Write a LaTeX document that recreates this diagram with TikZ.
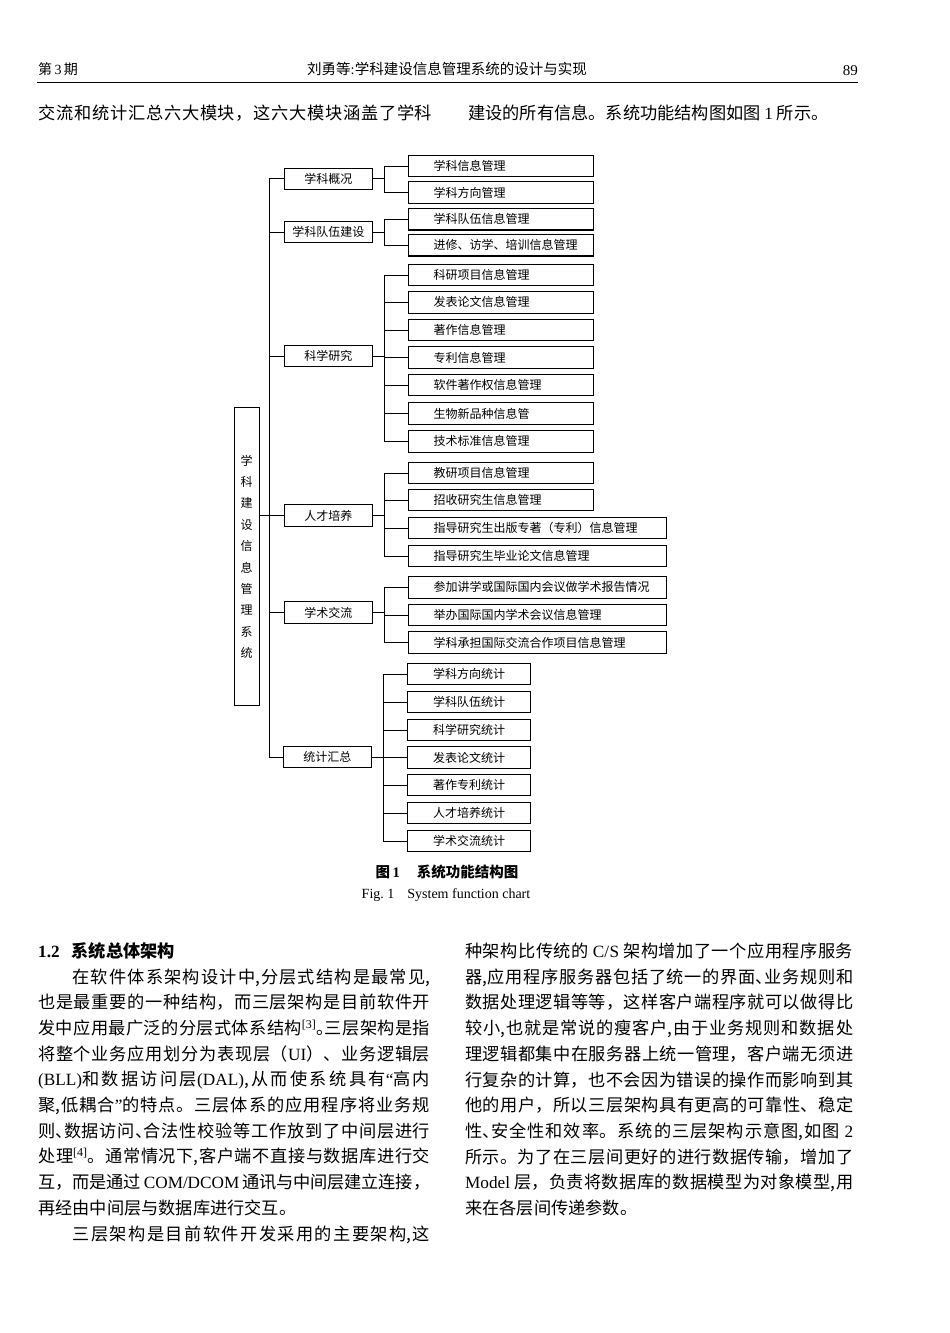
\documentclass[tikz,border=0pt]{standalone}
\usepackage{fontspec}
\setmainfont{Noto Sans CJK SC}
\newfontfamily\tm{Liberation Serif}
\usetikzlibrary{positioning}
\XeTeXlinebreaklocale "zh"
\XeTeXlinebreakskip=0pt plus 3pt minus 0.4pt
\tolerance=9999
\newcommand\rf[1]{\textsuperscript{\tm[#1]}}
\newcommand\hp[1]{\makebox[.5em][l]{#1}}

\begin{document}
\begin{tikzpicture}[x=1pt,y=-1pt,
  lvl/.style={draw,line width=1.1pt,minimum width=87.5pt,minimum height=21.5pt,
    inner sep=0pt,anchor=west,font=\fontsize{12}{14}\selectfont},
  leaf/.style={lvl,minimum width=0pt,text width=185pt,align=left,
    execute at begin node=\hspace*{25pt}},
  wide/.style={leaf,text width=258pt},
  cnt/.style={lvl,minimum width=123pt,align=center},
  sysbox/.style={draw,line width=1.1pt,minimum width=25pt,minimum height=298pt,
    inner sep=0pt,align=center,font=\fontsize{12}{21.4}\selectfont},
  link/.style={line width=1pt},
  para/.style={inner sep=0pt,anchor=base west,align=justify,
    font=\fontsize{17.2}{25.7}\selectfont}]
\useasboundingbox (0,0) rectangle (950,1333);
% running head
\node[anchor=west,inner sep=0pt,font=\fontsize{14}{16}\selectfont] (issue) at (38,69) {第{\tm\,3\,}期};
\node[font=\fontsize{14.5}{16}\selectfont] (runtitle) at (447,69) {刘勇等{\tm :}学科建设信息管理系统的设计与实现};
\node[anchor=east,inner sep=0pt,font=\tm\fontsize{15}{16}\selectfont] (pageno) at (858,71) {89};
\draw[line width=0.8pt] (37,82) -- (858,82);
\node[para,text width=394pt] (topL) at (38,119.5) {{\parfillskip=0pt 交流和统计汇总六大模块，这六大模块涵盖了学科\par}};
\node[para] (topR) at (468,119.5) {建设的所有信息。系统功能结构图如图 {\tm 1} 所示。};

% system function chart
\node[sysbox] (root) at (246.7,556.7) {学\\科\\建\\设\\信\\息\\管\\理\\系\\统};
\node[lvl] (gk) at (284,178.8) {学科概况};
\node[lvl] (dw) at (284,232) {学科队伍建设};
\node[lvl] (ky) at (284,356) {科学研究};
\node[lvl] (rc) at (284,515.5) {人才培养};
\node[lvl] (jl) at (284,612.5) {学术交流};
\node[lvl] (tj) at (283,757) {统计汇总};

\node[leaf] (gk1) at (408,166) {学科信息管理};
\node[leaf] (gk2) at (408,192.5) {学科方向管理};
\node[leaf] (dw1) at (408,219.2) {学科队伍信息管理};
\node[leaf] (dw2) at (408,245.2) {进修、访学、培训信息管理};
\node[leaf] (ky1) at (408,275) {科研项目信息管理};
\node[leaf] (ky2) at (408,302.3) {发表论文信息管理};
\node[leaf] (ky3) at (408,330) {著作信息管理};
\node[leaf] (ky4) at (408,357.5) {专利信息管理};
\node[leaf] (ky5) at (408,385) {软件著作权信息管理};
\node[leaf] (ky6) at (408,413.5) {生物新品种信息管};
\node[leaf] (ky7) at (408,441.3) {技术标准信息管理};
\node[leaf] (rc1) at (408,473) {教研项目信息管理};
\node[leaf] (rc2) at (408,500) {招收研究生信息管理};
\node[wide] (rc3) at (408,528) {指导研究生出版专著（专利）信息管理};
\node[wide] (rc4) at (408,556) {指导研究生毕业论文信息管理};
\node[wide] (jl1) at (408,587.3) {参加讲学或国际国内会议做学术报告情况};
\node[wide] (jl2) at (408,615) {举办国际国内学术会议信息管理};
\node[wide] (jl3) at (408,642.5) {学科承担国际交流合作项目信息管理};
\node[cnt] (tj1) at (407,674) {学科方向统计};
\node[cnt] (tj2) at (407,702) {学科队伍统计};
\node[cnt] (tj3) at (407,730) {科学研究统计};
\node[cnt] (tj4) at (407,757.5) {发表论文统计};
\node[cnt] (tj5) at (407,785) {著作专利统计};
\node[cnt] (tj6) at (407,813) {人才培养统计};
\node[cnt] (tj7) at (407,841) {学术交流统计};

% trunk
\draw[link] (gk.west) -- ++(-14.5,0) coordinate (trunk) -- (trunk |- tj.west) -- (tj.west);
\draw[link] (trunk |- dw.west) -- (dw.west) (trunk |- ky.west) -- (ky.west);
\draw[link] (root.east |- rc.west) -- (rc.west) (trunk |- jl.west) -- (jl.west);
% branches
\draw[link] (gk.east) -- ++(12,0) |- (gk1.west) (gk.east) -- ++(12,0) |- (gk2.west);
\draw[link] (dw.east) -- ++(12,0) |- (dw1.west) (dw.east) -- ++(12,0) |- (dw2.west);
\draw[link] (ky.east) -- ++(12,0) |- (ky1.west) (ky.east) -- ++(12,0) |- (ky2.west)
  (ky.east) -- ++(12,0) |- (ky3.west) (ky.east) -- ++(12,0) |- (ky4.west)
  (ky.east) -- ++(12,0) |- (ky5.west) (ky.east) -- ++(12,0) |- (ky6.west)
  (ky.east) -- ++(12,0) |- (ky7.west);
\draw[link] (rc.east) -- ++(12,0) |- (rc1.west) (rc.east) -- ++(12,0) |- (rc2.west)
  (rc.east) -- ++(12,0) |- (rc3.west) (rc.east) -- ++(12,0) |- (rc4.west);
\draw[link] (jl.east) -- ++(12,0) |- (jl1.west) (jl.east) -- ++(12,0) |- (jl2.west)
  (jl.east) -- ++(12,0) |- (jl3.west);
\draw[link] (tj.east) -- ++(12,0) |- (tj1.west) (tj.east) -- ++(12,0) |- (tj2.west)
  (tj.east) -- ++(12,0) |- (tj3.west) (tj.east) -- ++(12,0) |- (tj4.west)
  (tj.east) -- ++(12,0) |- (tj5.west) (tj.east) -- ++(12,0) |- (tj6.west)
  (tj.east) -- ++(12,0) |- (tj7.west);

\node[font=\bfseries\fontsize{14.5}{16}\selectfont] (cap) at (447,872) {图\,{\tm 1}\hspace{17pt}系统功能结构图};
\node[font=\tm\fontsize{14}{16}\selectfont] (capen) at (446,895) {Fig.\ 1\hspace{13pt}System function chart};

% body text
\node[anchor=base west,inner sep=0pt,font=\bfseries\fontsize{17.2}{20}\selectfont] (sec) at (38,957.5) {{\tm 1.2}\hspace{12pt}系统总体架构};
\node[para,text width=392pt] (colL) at (38,983) {%
\hspace*{2em}在软件体系架构设计中,分层式结构是最常见,\linebreak
也是最重要的一种结构，而三层架构是目前软件开\linebreak
发中应用最广泛的分层式体系结构\rf{3}\hp{。}三层架构是指\linebreak
将整个业务应用划分为表现层（{\tm UI}）、业务逻辑层\linebreak
{\tm(BLL)}和数据访问层{\tm(DAL)},从而使系统具有{\tm“}高内\linebreak
聚,低耦合{\tm”}的特点。三层体系的应用程序将业务规\linebreak
则\hp{、}数据访问\hp{、}合法性校验等工作放到了中间层进行\linebreak
处理\rf{4}。通常情况下,客户端不直接与数据库进行交\linebreak
互，而是通过 {\tm COM/DCOM} 通讯与中间层建立连接，\linebreak
再经由中间层与数据库进行交互。\par
{\parfillskip=0pt \hspace*{2em}三层架构是目前软件开发采用的主要架构,这\par}};
\node[para,text width=388pt] (colR) at (465,957.5) {%
种架构比传统的 {\tm C/S} 架构增加了一个应用程序服务\linebreak
器,应用程序服务器包括了统一的界面\hp{、}业务规则和\linebreak
数据处理逻辑等等，这样客户端程序就可以做得比\linebreak
较小,也就是常说的瘦客户,由于业务规则和数据处\linebreak
理逻辑都集中在服务器上统一管理，客户端无须进\linebreak
行复杂的计算，也不会因为错误的操作而影响到其\linebreak
他的用户，所以三层架构具有更高的可靠性、稳定\linebreak
性\hp{、}安全性和效率。系统的三层架构示意图,如图 {\tm 2}\linebreak
所示。为了在三层间更好的进行数据传输，增加了\linebreak
{\tm Model} 层，负责将数据库的数据模型为对象模型,用\linebreak
来在各层间传递参数。};
\end{tikzpicture}
\end{document}
